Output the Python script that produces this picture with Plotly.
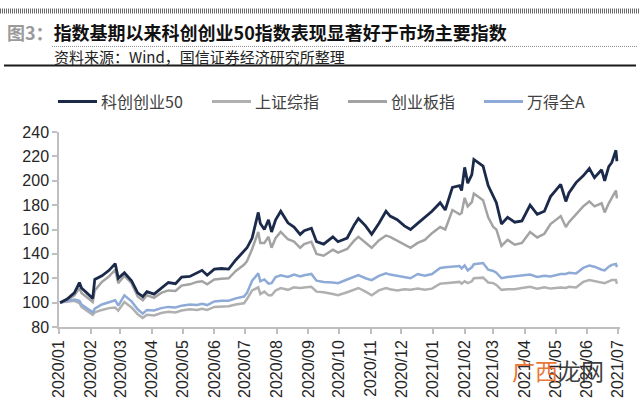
import plotly.graph_objects as go

# ---------------- data (normalised, base 2019-12-31 = 100) ----------------
dates = [
    "2020-01-02", "2020-01-09", "2020-01-16", "2020-01-21", "2020-01-23", "2020-02-03",
    "2020-02-05", "2020-02-12", "2020-02-19", "2020-02-25", "2020-02-28", "2020-03-05",
    "2020-03-12", "2020-03-18", "2020-03-23", "2020-03-27", "2020-04-03", "2020-04-10",
    "2020-04-17", "2020-04-24", "2020-04-30", "2020-05-08", "2020-05-15", "2020-05-20",
    "2020-05-25", "2020-06-01", "2020-06-08", "2020-06-15", "2020-06-22", "2020-06-30",
    "2020-07-03", "2020-07-08", "2020-07-14", "2020-07-16", "2020-07-20", "2020-07-24",
    "2020-07-27", "2020-07-31", "2020-08-05", "2020-08-12", "2020-08-18", "2020-08-24",
    "2020-08-28", "2020-09-04", "2020-09-09", "2020-09-16", "2020-09-25", "2020-09-30",
    "2020-10-09", "2020-10-16", "2020-10-20", "2020-10-27", "2020-11-02", "2020-11-09",
    "2020-11-16", "2020-11-20", "2020-11-27", "2020-12-04", "2020-12-10", "2020-12-17",
    "2020-12-24", "2020-12-31", "2021-01-08", "2021-01-13", "2021-01-20", "2021-01-27",
    "2021-01-29", "2021-02-01", "2021-02-04", "2021-02-08", "2021-02-10", "2021-02-19",
    "2021-02-24", "2021-03-01", "2021-03-04", "2021-03-09", "2021-03-15", "2021-03-22",
    "2021-03-29", "2021-04-06", "2021-04-13", "2021-04-20", "2021-04-26", "2021-05-06",
    "2021-05-11", "2021-05-14", "2021-05-21", "2021-05-28", "2021-06-03", "2021-06-08",
    "2021-06-15", "2021-06-18", "2021-06-22", "2021-06-25", "2021-06-29", "2021-06-30",
]

kc50 = [
    100, 103, 108, 116.5, 112, 103.5, 119, 122, 126.5, 132, 120, 124.5,
    118, 108, 105, 109, 107, 112, 116.5, 115.5, 121, 121.5, 124.5, 126.5,
    122.5, 127.5, 128, 127.5, 135, 142, 145, 153, 174, 165, 160, 168,
    158, 168, 175, 165.5, 162, 156, 159, 161, 150, 148, 154, 150,
    153, 164, 169, 163, 156, 165, 175, 171, 168, 163, 160, 165,
    170, 175, 182, 176, 194.5, 196, 192, 211, 198, 205, 217.5, 212,
    196, 187, 182, 164.5, 170, 166, 167, 180, 172.5, 175, 187, 197,
    183, 190, 198.5, 204, 210, 202.5, 209, 200, 211.5, 215, 225, 216,
]

szzz = [
    100, 101, 101.5, 99.5, 96.5, 90, 92, 94, 95.5, 96, 93.5, 100.5,
    96, 90.5, 87.5, 90, 89.5, 91.5, 92.5, 92, 93.5, 94.5, 94, 95,
    94, 96.5, 97, 97, 98.5, 99.5, 103, 110, 112.5, 107, 109, 106,
    106, 110, 112, 110.5, 112.5, 112, 112.5, 113, 109, 108.5, 107, 106,
    108.5, 111, 112, 109, 106, 110, 112, 111, 110, 111, 110.5, 111.5,
    110.5, 111.5, 115.5, 116, 116.5, 117, 115.5, 117.5, 116, 117.5, 120, 120.5,
    116.5, 116, 114.5, 110.5, 111, 111, 112, 113, 111.5, 112.5, 111.5, 112.5,
    112, 113, 112.5, 117, 118.5, 117.5, 116, 116, 117.5, 118.5, 118.5, 115.5,
]

cybz = [
    100, 102, 106, 112, 108, 100.5, 110, 117, 121.5, 127, 116, 122,
    116, 105, 102, 106, 104, 108, 110, 109.5, 114, 115, 117, 117.5,
    115, 119, 119.5, 120, 126, 131, 134, 144, 158, 149, 149, 154,
    145, 153, 158, 152, 150, 145, 148, 150, 140, 138.5, 143.5, 141,
    144, 151, 154, 149, 145, 151, 155, 154, 151, 148, 145, 149,
    151.5, 157, 162, 160, 176, 172.5, 173.5, 186, 179, 182.5, 189.5, 184,
    170, 162, 160, 146.5, 151.5, 147.5, 149, 158, 153.5, 156.5, 164.5, 171,
    162, 166, 172.5, 179, 183, 179, 181.5, 174, 181.5, 186, 192, 185.5,
]

wdqa = [
    100, 101.5, 102.5, 101.5, 98.5, 92, 95, 98.5, 100.5, 102, 97.5, 106,
    101, 94.5, 91, 94, 93.5, 95.5, 96.5, 96, 97.5, 98.5, 98, 99,
    98, 101, 101.5, 101.5, 103.5, 105, 108, 118, 124, 117.5, 119, 115.5,
    116, 121, 122.5, 121, 123, 121.5, 122.5, 123.5, 118, 117, 116.5, 116,
    119, 121.5, 122.5, 120, 118.5, 122, 124, 123, 122, 121, 120, 123.5,
    122, 123.5, 128.5, 129, 129.5, 130, 128, 130.5, 126.5, 129, 131.5, 132.5,
    127, 126, 124.5, 120, 121, 121.5, 122, 123, 121, 122, 121.5, 123.5,
    123.5, 124.5, 124, 128.5, 130.5, 129.5, 127, 126.5, 129.5, 131, 131.8, 129.2,
]

series_names = ["科创创业50", "上证综指", "创业板指", "万得全A"]
series_values = [kc50, szzz, cybz, wdqa]
series_colors = ["#1b2a4a", "#b0b0b0", "#a3a3a3", "#8eaad6"]

tick_dates = [
    "2020-01-01", "2020-02-01", "2020-03-01", "2020-04-01", "2020-05-01", "2020-06-01",
    "2020-07-01", "2020-08-01", "2020-09-01", "2020-10-01", "2020-11-01", "2020-12-01",
    "2021-01-01", "2021-02-01", "2021-03-01", "2021-04-01", "2021-05-01", "2021-06-01",
    "2021-07-01",
]
tick_labels = [
    "2020/01", "2020/02", "2020/03", "2020/04", "2020/05", "2020/06", "2020/07",
    "2020/08", "2020/09", "2020/10", "2020/11", "2020/12", "2021/01", "2021/02",
    "2021/03", "2021/04", "2021/05", "2021/06", "2021/07",
]

title_prefix = "图3："
title_text = "指数基期以来科创创业50指数表现显著好于市场主要指数"
source_text = "资料来源：Wind，国信证券经济研究所整理"

# ---------------- figure ----------------
W, H = 640, 410
ML, MR, MT, MB = 59, 20, 132, 74
PW, PH = W - ML - MR, H - MT - MB


def px(x):
    return (x - ML) / PW


def py(y):
    return (H - MB - y) / PH


fig = go.Figure()
draw_order = [1, 3, 2, 0]
for i in draw_order:
    fig.add_trace(go.Scatter(
        x=dates, y=series_values[i], name=series_names[i], mode="lines",
        line=dict(color=series_colors[i], width=2.8 if i == 0 else 2.5),
        showlegend=False, hoverinfo="skip",
    ))

cjk = "Noto Sans CJK SC"
axis_font = dict(family="Liberation Sans, Arial", size=16, color="#262626")

fig.update_xaxes(
    type="date", range=["2020-01-01", "2021-07-03"],
    tickvals=tick_dates, ticktext=tick_labels, tickangle=-90,
    showline=True, linecolor="#bfbfbf", linewidth=1.5,
    ticks="outside", ticklen=5, tickcolor="#bfbfbf", tickwidth=1.5,
    showgrid=False, zeroline=False, tickfont=axis_font,
)
fig.update_yaxes(
    range=[80, 240], dtick=20, tick0=80,
    showline=True, linecolor="#bfbfbf", linewidth=1.5,
    ticks="outside", ticklen=5, tickcolor="#bfbfbf", tickwidth=1.5,
    showgrid=False, zeroline=False, tickfont=axis_font,
)

shapes = []
annotations = []

# header decorations
shapes.append(dict(type="line", xref="paper", yref="paper", x0=px(0), x1=px(640),
                   y0=py(5.5), y1=py(5.5), line=dict(color="#6a6a6a", width=5, dash="1px,1px")))
shapes.append(dict(type="line", xref="paper", yref="paper", x0=px(52), x1=px(638),
                   y0=py(42.5), y1=py(42.5), line=dict(color="#8a8a8a", width=1, dash="1px,1px")))
shapes.append(dict(type="line", xref="paper", yref="paper", x0=px(4), x1=px(636),
                   y0=py(62.5), y1=py(62.5), line=dict(color="#1a1a1a", width=2)))

annotations.append(dict(
    xref="paper", yref="paper", x=px(5), y=py(27), xanchor="left", yanchor="middle",
    text="<b><span style='color:#9a9a9a'>" + title_prefix + "</span>" + title_text + "</b>",
    showarrow=False, font=dict(family=cjk, size=18, color="#111111"),
))
annotations.append(dict(
    xref="paper", yref="paper", x=px(52), y=py(53), xanchor="left", yanchor="middle",
    text=source_text, showarrow=False, font=dict(family=cjk, size=15, color="#222222"),
))

# legend (drawn manually to match spacing)
legend_starts = [58, 212, 348, 484]
for name, color, x0 in zip(series_names, series_colors, legend_starts):
    shapes.append(dict(type="line", xref="paper", yref="paper", x0=px(x0), x1=px(x0 + 39),
                       y0=py(100), y1=py(100), line=dict(color=color, width=3)))
    annotations.append(dict(
        xref="paper", yref="paper", x=px(x0 + 41), y=py(100), xanchor="left", yanchor="middle",
        text=name, showarrow=False, font=dict(family=cjk, size=16, color="#404040"),
    ))

# watermark
annotations.append(dict(
    xref="paper", yref="paper", x=px(558), y=py(381), xanchor="center", yanchor="middle",
    text="<span style='color:#e8691f'>广西</span><span style='color:#2a2a2a'>龙网</span>",
    showarrow=False, font=dict(family=cjk, size=23), opacity=0.9,
))

fig.update_layout(
    width=W, height=H, autosize=False,
    margin=dict(l=ML, r=MR, t=MT, b=MB, pad=0),
    paper_bgcolor="white", plot_bgcolor="white",
    shapes=shapes, annotations=annotations, showlegend=False,
)

fig.write_html("out.html")
